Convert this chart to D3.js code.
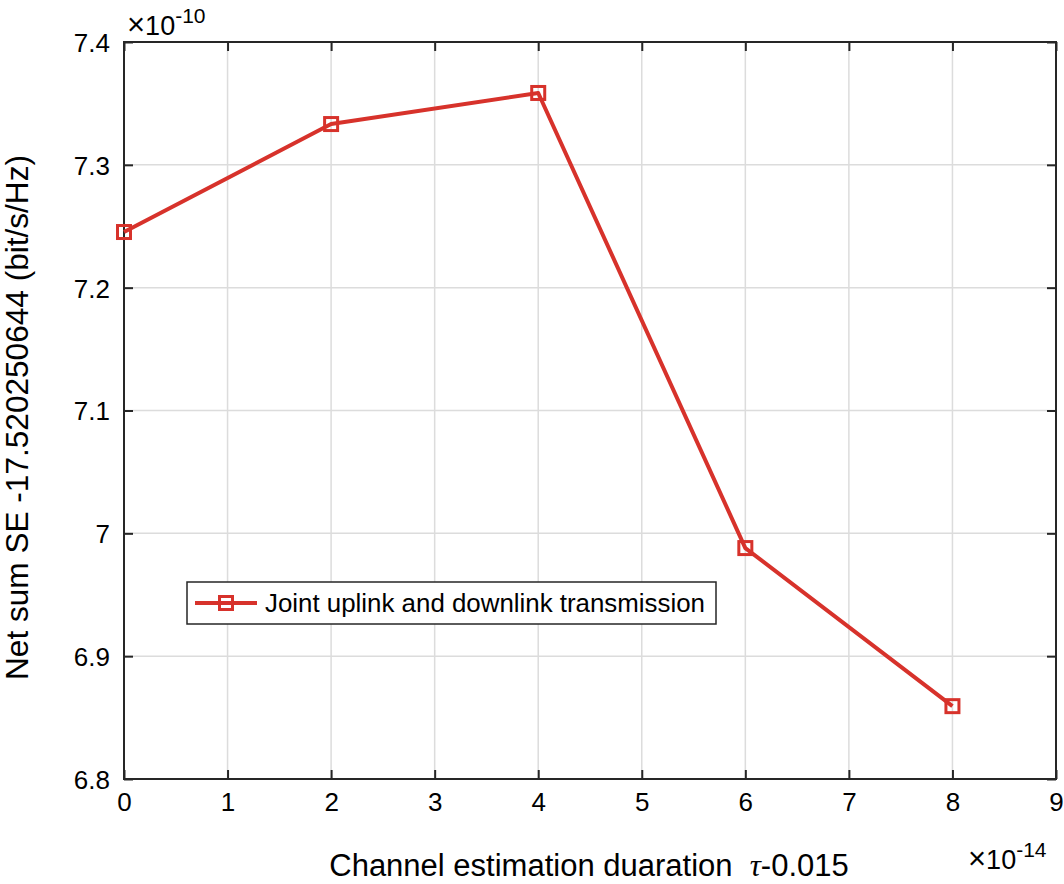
<!DOCTYPE html>
<html><head><meta charset="utf-8">
<script src="https://cdn.jsdelivr.net/npm/d3@7"></script>
<style>body{margin:0;background:#fff;} svg{display:block;font-family:"Liberation Sans",Arial,sans-serif;} text{white-space:pre;}</style>
</head><body>
<svg id="c" width="1064" height="884"></svg>
<script>
const xValues = [0, 2, 4, 6, 8];
const yValues = [7.2453, 7.3332, 7.3585, 6.9880, 6.8593];
const xTicks = [0,1,2,3,4,5,6,7,8,9];
const yTicks = [6.8,6.9,7.0,7.1,7.2,7.3,7.4];
const yTickLabels = ["6.8","6.9","7","7.1","7.2","7.3","7.4"];
const seriesName = "Joint uplink and downlink transmission";
const xLabel = "Channel estimation duaration  ";
const yLabel = "Net sum SE -17.520250644 (bit/s/Hz)";

const L=124, R=1056, T=42, B=779;
const svg = d3.select("#c");
const x = d3.scaleLinear().domain([0,9]).range([L,R]);
const y = d3.scaleLinear().domain([6.8,7.4]).range([B,T]);
const red = "#D7322B";
const FF = "Liberation Sans, Arial, sans-serif";

// grid
const g = svg.append("g");
g.selectAll(".gx").data(xTicks.slice(1,-1)).enter().append("line")
  .attr("x1",d=>x(d)).attr("x2",d=>x(d)).attr("y1",T).attr("y2",B)
  .attr("stroke","#dcdcdc").attr("stroke-width",1.5);
g.selectAll(".gy").data(yTicks.slice(1,-1)).enter().append("line")
  .attr("y1",d=>y(d)).attr("y2",d=>y(d)).attr("x1",L).attr("x2",R)
  .attr("stroke","#dcdcdc").attr("stroke-width",1.5);

// axes
const fs = 26;
const xa = svg.append("g").attr("transform",`translate(0,${B})`)
  .call(d3.axisBottom(x).tickValues(xTicks).tickSize(-9).tickPadding(14).tickFormat(d3.format("d")));
const xt = svg.append("g").attr("transform",`translate(0,${T})`)
  .call(d3.axisTop(x).tickValues(xTicks).tickSize(-9).tickFormat(""));
const ya = svg.append("g").attr("transform",`translate(${L},0)`)
  .call(d3.axisLeft(y).tickValues(yTicks).tickSize(-9).tickPadding(14).tickFormat((d,i)=>yTickLabels[i]));
const yr = svg.append("g").attr("transform",`translate(${R},0)`)
  .call(d3.axisRight(y).tickValues(yTicks).tickSize(-9).tickFormat(""));
[xa,xt,ya,yr].forEach(a=>{
  a.attr("font-size",fs).attr("font-family",FF);
  a.selectAll(".domain").remove();
  a.selectAll("line").attr("stroke","#262626").attr("stroke-width",2);
  a.selectAll("text").attr("font-size",fs).attr("fill","#000");
});
ya.selectAll("text").attr("dy","0.36em");
svg.append("rect").attr("x",L).attr("y",T).attr("width",R-L).attr("height",B-T)
  .attr("fill","none").attr("stroke","#262626").attr("stroke-width",2);

// exponents
function expo(xp, yp, e){
  const t = svg.append("text").attr("x",xp).attr("y",yp).attr("font-size",27).attr("fill","#000");
  t.append("tspan").attr("font-size",31).text("\u00d7");
  t.append("tspan").text("10");
  t.append("tspan").attr("dy",-12).attr("font-size",21).text(e);
}
expo(127, 35, "-10");
expo(968, 869, "-14");

// line
const line = d3.line().x((d,i)=>x(xValues[i])).y(d=>y(d));
svg.append("path").datum(yValues).attr("d",line).attr("fill","none")
  .attr("stroke",red).attr("stroke-width",4).attr("stroke-linejoin","round");
svg.selectAll(".m").data(yValues).enter().append("rect")
  .attr("x",(d,i)=>x(xValues[i])-6.5).attr("y",d=>y(d)-6.5)
  .attr("width",13).attr("height",13).attr("fill","none")
  .attr("stroke",red).attr("stroke-width",3);

// legend
svg.append("rect").attr("x",187).attr("y",582).attr("width",529).attr("height",42)
  .attr("fill","#fff").attr("stroke","#262626").attr("stroke-width",1.5);
svg.append("line").attr("x1",195).attr("x2",257).attr("y1",603).attr("y2",603)
  .attr("stroke",red).attr("stroke-width",4);
svg.append("rect").attr("x",219.5).attr("y",596.5).attr("width",13).attr("height",13)
  .attr("fill","none").attr("stroke",red).attr("stroke-width",3);
svg.append("text").attr("x",265).attr("y",612).attr("font-size",fs).attr("fill","#000")
  .attr("textLength",440).attr("lengthAdjust","spacingAndGlyphs").text(seriesName);

// axis labels
const xl = svg.append("text").attr("x",589).attr("y",876).attr("text-anchor","middle")
  .attr("font-size",31).attr("fill","#000");
xl.append("tspan").text(xLabel);
xl.append("tspan").attr("font-family","Liberation Serif, Times New Roman, serif").attr("font-style","italic").text("\u03c4");
xl.append("tspan").text("-0.015");
svg.append("text").attr("transform",`translate(28,${(155+680)/2}) rotate(-90)`)
  .attr("text-anchor","middle").attr("font-size",31).attr("fill","#000")
  .attr("textLength",525).attr("lengthAdjust","spacingAndGlyphs").text(yLabel);
</script>
</body></html>
